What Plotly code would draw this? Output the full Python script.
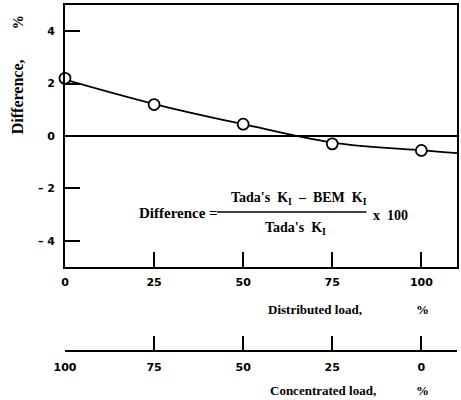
import plotly.graph_objects as go

# Data
dist_load = [0, 25, 50, 75, 100]
difference = [2.2, 1.2, 0.45, -0.3, -0.55]
curve_x = [0, 25, 50, 75, 100, 110]
curve_y = [2.15, 1.22, 0.45, -0.25, -0.55, -0.65]

y_ticks = [-4, -2, 0, 2, 4]
y_ticktext = ["\u2013 4", "\u2013 2", "0", "2", "4"]
x_ticks = [0, 25, 50, 75, 100]
conc_ticks = [100, 75, 50, 25, 0, -10]
conc_ticktext = ["100", "75", "50", "25", "0", ""]

serif = "Liberation Serif"
tickfont = dict(family="DejaVu Sans", size=11, color="black", weight="bold")

fig = go.Figure()
fig.add_trace(go.Scatter(x=curve_x, y=curve_y, mode="lines", line_shape="spline",
                         line=dict(color="black", width=1.8), showlegend=False,
                         hoverinfo="skip"))
fig.add_trace(go.Scatter(x=dist_load, y=difference, mode="markers",
                         marker=dict(symbol="circle", size=11, color="white",
                                     line=dict(color="black", width=1.8)),
                         cliponaxis=False, showlegend=False))
# invisible trace for secondary axis
fig.add_trace(go.Scatter(x=[100, -10], y=[None, None], xaxis="x2", yaxis="y",
                         mode="markers", showlegend=False, hoverinfo="skip"))

W, H = 461, 400
L, R, T, B = 65, 2, 5, 49
pw = W - L - R
ph = H - T - B
plot_bottom = (H - 267 - B) / ph

fig.update_layout(
    width=W, height=H, margin=dict(l=L, r=R, t=T, b=B),
    paper_bgcolor="white", plot_bgcolor="white",
    xaxis=dict(range=[0, 110], tickvals=x_ticks, ticks="inside", ticklen=15,
               tickwidth=1.8, tickcolor="black", showgrid=False, zeroline=False,
               showline=True, linecolor="black", linewidth=1.8, mirror=True,
               tickfont=tickfont, anchor="y", ticklabelstandoff=4),
    yaxis=dict(range=[-5, 5], domain=[plot_bottom, 1], tickvals=y_ticks,
               ticktext=y_ticktext, ticks="inside", ticklen=15, tickwidth=1.8,
               tickcolor="black", showgrid=False, zeroline=True,
               zerolinecolor="black", zerolinewidth=1.8, showline=True,
               linecolor="black", linewidth=1.8, mirror=True, tickfont=tickfont,
               ticklabelstandoff=6),
    xaxis2=dict(range=[100, -10], tickvals=conc_ticks, ticktext=conc_ticktext,
                ticks="inside", ticklen=14, tickwidth=1.8, tickcolor="black",
                showgrid=False, zeroline=False, showline=True, linecolor="black",
                linewidth=1.8, anchor="free", position=0, overlaying="x",
                side="bottom", tickfont=tickfont, ticklabelstandoff=6),
)

def px(xp, yp):
    return (xp - L) / pw, (H - B - yp) / ph

ann = []
def add_text(text, xp, yp, size=12, angle=0, xanchor="center"):
    x, y = px(xp, yp)
    ann.append(dict(text=text, x=x, y=y, xref="paper", yref="paper",
                    showarrow=False, xanchor=xanchor, yanchor="middle",
                    textangle=angle,
                    font=dict(family=serif, size=size, color="black", weight="bold")))

# axis titles
add_text("Difference,", 18, 97, size=16, angle=-90)
add_text("%", 18, 22, size=14, angle=-90)
add_text("Distributed load,", 316, 309, size=13)
add_text("%", 424, 309, size=13)
add_text("Concentrated load,", 324, 390, size=13)
add_text("%", 424, 390, size=13)

# formula
add_text("Difference =", 179, 213, size=15)
add_text("Tada's  K<sub>I</sub>  \u2013  BEM  K<sub>I</sub>", 300, 198, size=14)
add_text("Tada's  K<sub>I</sub>", 297, 228, size=14)
add_text("x  100", 392, 215, size=14)
fig.update_layout(annotations=ann)

x0, y0 = px(218, 212)
x1, _ = px(368, 212)
fig.add_shape(type="line", xref="paper", yref="paper",
              x0=x0, x1=x1, y0=y0, y1=y0,
              line=dict(color="black", width=1.5))

fig.write_html("out.html")
